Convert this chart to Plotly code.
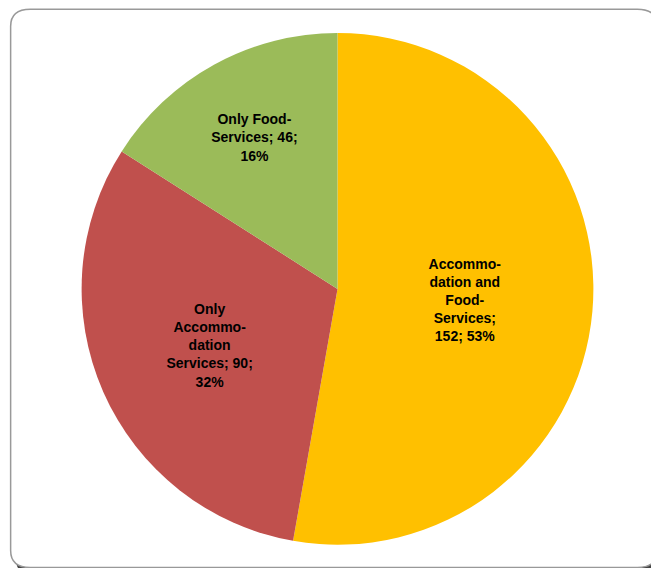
import plotly.graph_objects as go

categories = ["Accommodation and Food-Services", "Only Accommodation Services", "Only Food-Services"]
label_lines = ["Accommo-<br>dation and<br>Food-<br>Services;", "Only<br>Accommo-<br>dation<br>Services; 90;", "Only Food-<br>Services; 46;"]
values = [152, 90, 46]
pct_labels = ["152; 53%", "32%", "16%"]
colors = ["#FFC000", "#C0504D", "#9BBB59"]

texts = ["<b>" + f"{a}<br>{b}".replace("<br>", "</b><br><b>") + "</b>" for a, b in zip(label_lines, pct_labels)]

fig = go.Figure(go.Pie(
    labels=categories, values=values, text=texts, textinfo="text",
    textposition="inside", insidetextorientation="horizontal",
    sort=False, direction="clockwise", rotation=0,
    marker=dict(colors=colors, line=dict(width=0)),
    textfont=dict(family="Liberation Sans, Arial", size=14, color="black"),
    domain=dict(x=[0, 1], y=[0.055, 0.956]), showlegend=False, hoverinfo="label+value",
))

def rr(x0, y0, x1, y1, r):
    return (f"M{x0+r},{y0} L{x1-r},{y0} Q{x1},{y0} {x1},{y0+r} L{x1},{y1-r} Q{x1},{y1} {x1-r},{y1} "
            f"L{x0+r},{y1} Q{x0},{y1} {x0},{y1-r} L{x0},{y0+r} Q{x0},{y0} {x0+r},{y0} Z")

fig.update_layout(
    width=659, height=568, margin=dict(l=0, r=0, t=0, b=0),
    paper_bgcolor="white",
    shapes=[
        dict(type="path", xref="paper", yref="paper", path=rr(0.012, 0.0, 0.995, 0.99, 0.03),
             fillcolor="#444", line=dict(width=0), layer="below"),
        dict(type="path", xref="paper", yref="paper", path=rr(0.004, 0.015, 0.985, 0.998, 0.03),
             fillcolor="white", line=dict(color="#999", width=1.5), layer="below"),
    ],
)
fig.write_html("out.html")
